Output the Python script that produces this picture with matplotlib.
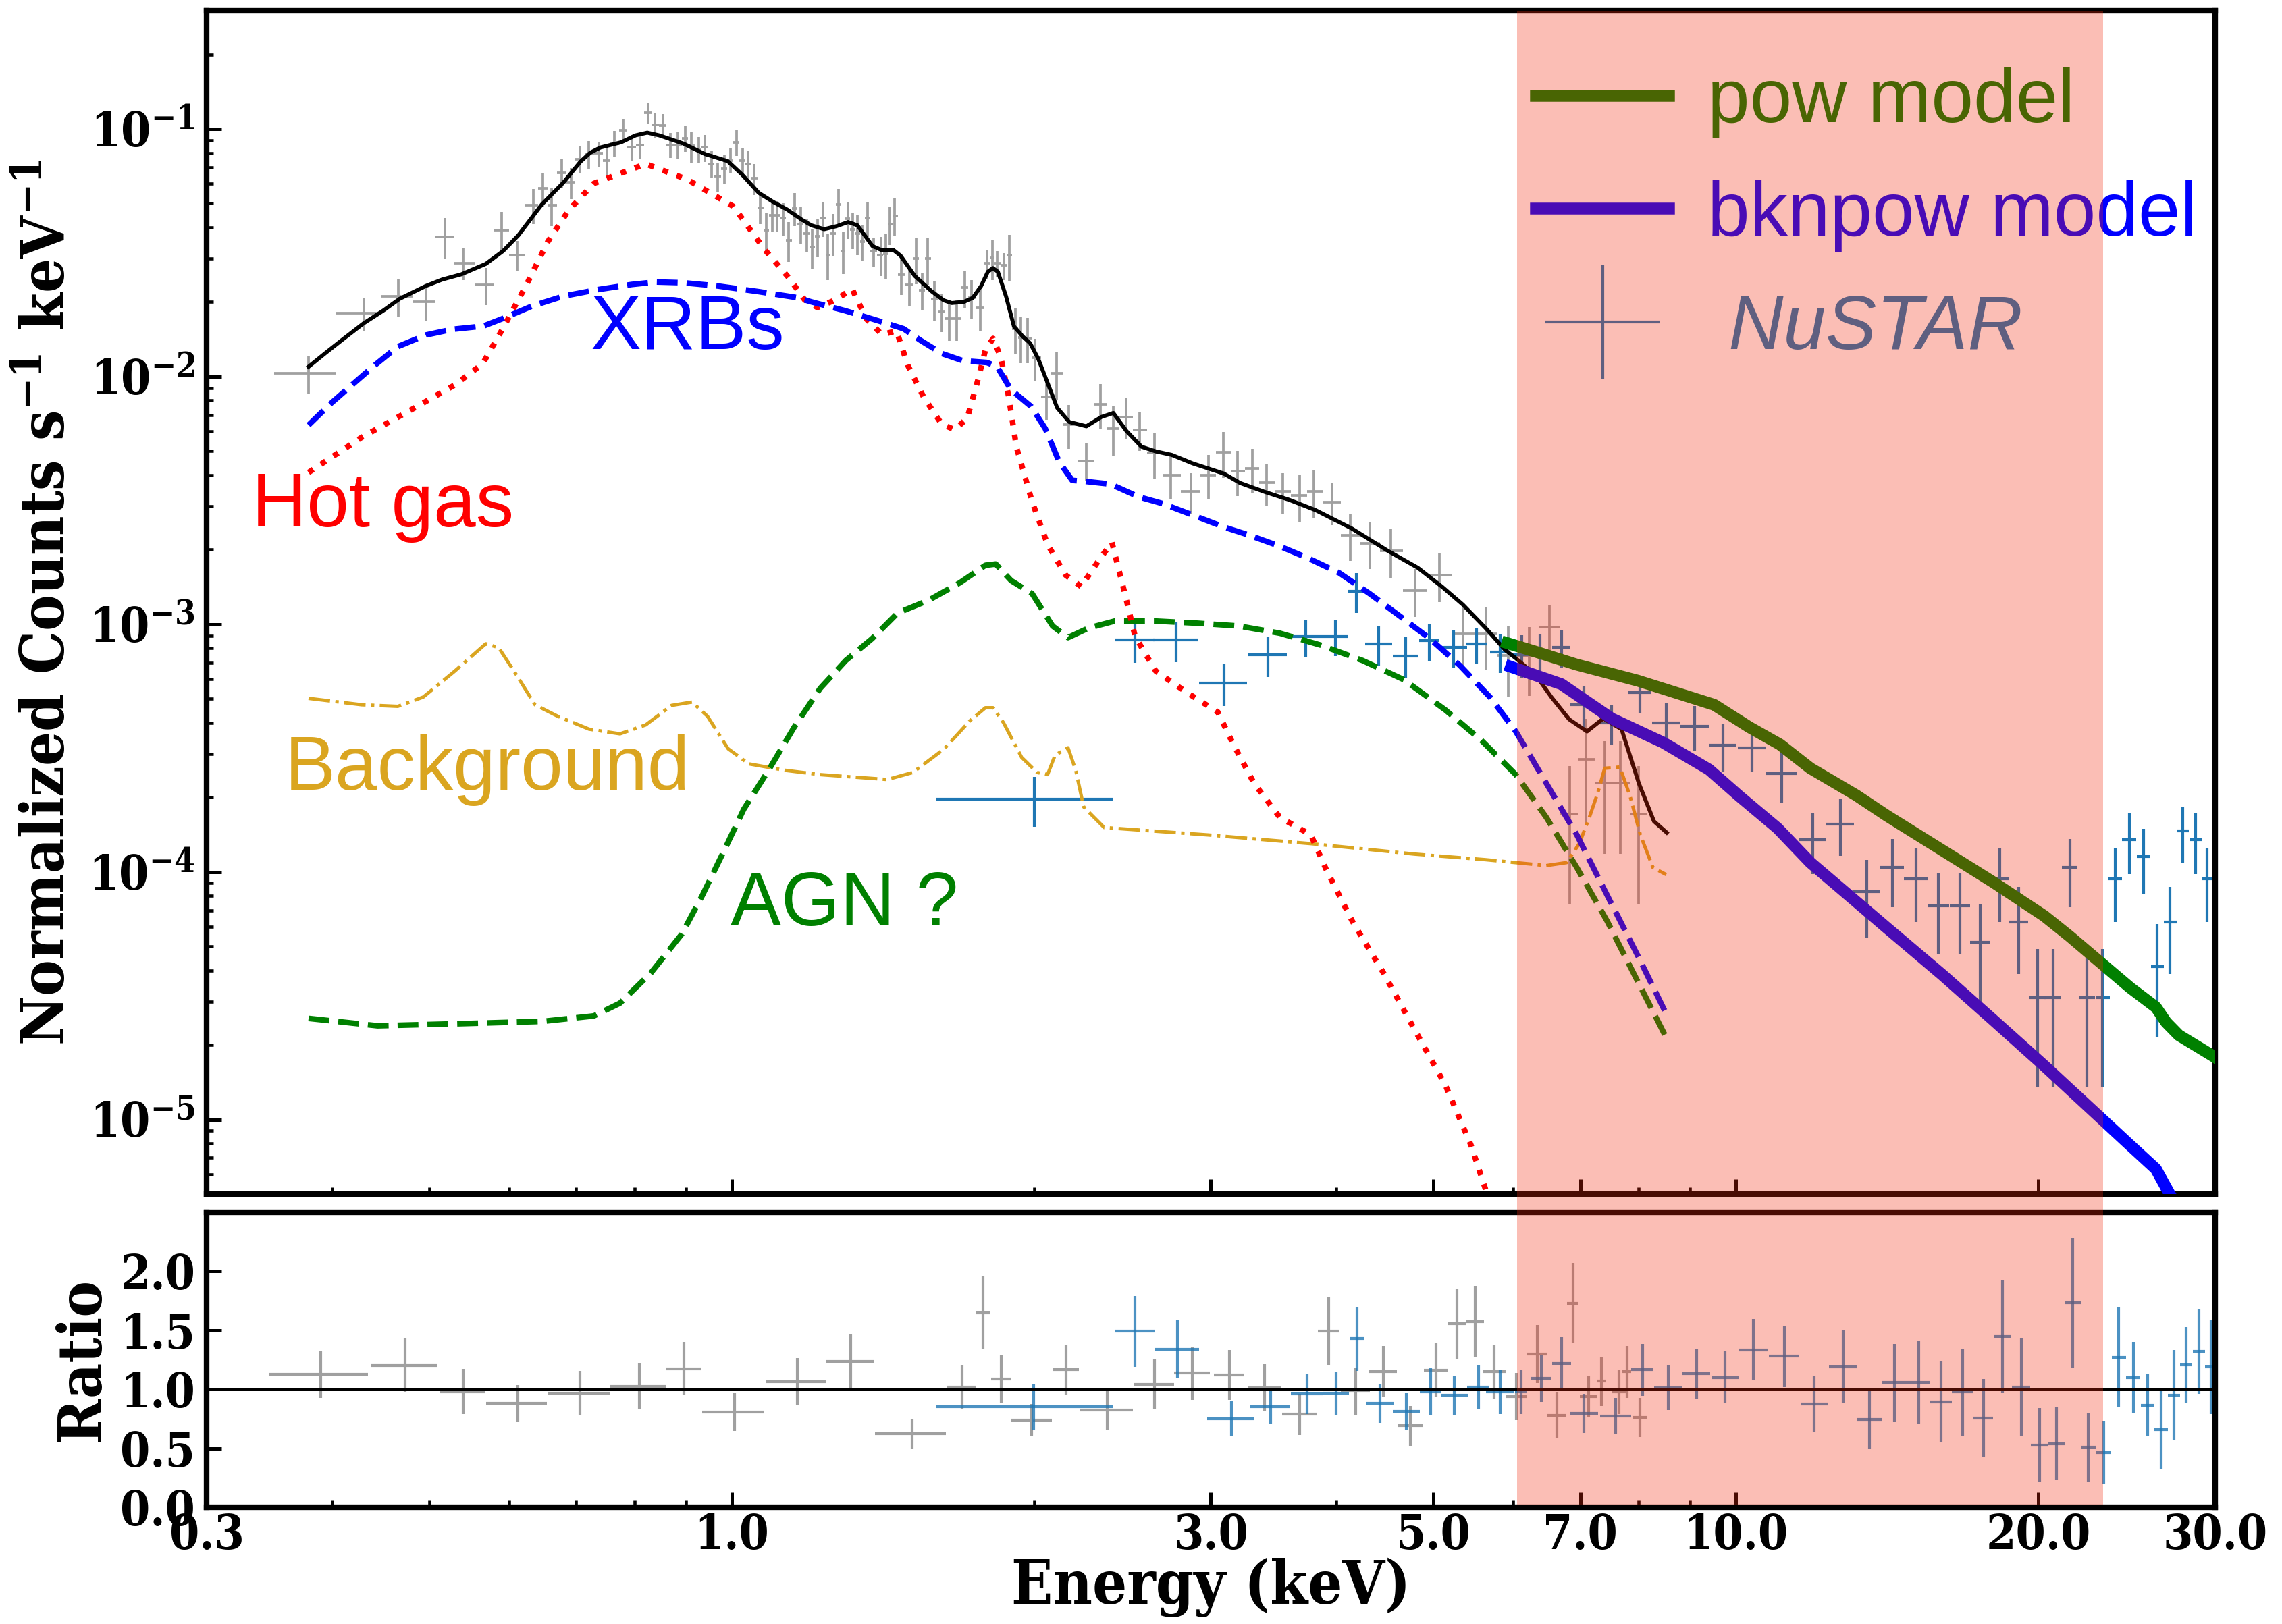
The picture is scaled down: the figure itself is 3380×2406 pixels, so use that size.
import numpy as np
import matplotlib
matplotlib.use("Agg")
import matplotlib.pyplot as plt
from matplotlib.patches import Rectangle
from matplotlib.legend_handler import HandlerErrorbar
from matplotlib.container import ErrorbarContainer
from matplotlib.ticker import FixedLocator, FixedFormatter, NullFormatter

plt.rcParams.update({
    "font.family": "serif",
    "font.serif": ["DejaVu Serif"],
    "font.weight": "bold",
    "font.stretch": "condensed",
    "axes.labelweight": "bold",
    "mathtext.fontset": "dejavuserif",
    "mathtext.default": "bf",
    "axes.linewidth": 2.0,
})

# ---------------- Chandra spectrum (counts s^-1 keV^-1) ----------------
chandra_E = [0.379, 0.430, 0.466, 0.496, 0.518, 0.540, 0.569, 0.590, 0.611, 0.635,
             0.649, 0.662, 0.677, 0.692, 0.706, 0.721, 0.737, 0.751, 0.764, 0.780,
             0.795, 0.810, 0.825, 0.838, 0.854, 0.869, 0.884, 0.899, 0.911, 0.927,
             0.940, 0.955, 0.968, 0.983, 0.997, 1.011, 1.025, 1.039, 1.053, 1.068,
             1.083, 1.097, 1.110, 1.125, 1.140, 1.155, 1.171, 1.188, 1.203, 1.218,
             1.233, 1.247, 1.262, 1.277, 1.291, 1.305, 1.320, 1.335, 1.349, 1.365,
             1.384, 1.408, 1.423, 1.438, 1.453, 1.475, 1.504, 1.526, 1.548, 1.568,
             1.592, 1.618, 1.646, 1.675, 1.706, 1.733, 1.767, 1.795, 1.817, 1.838,
             1.868, 1.889, 1.916, 1.939, 1.970, 2.006, 2.057, 2.106, 2.165, 2.253,
             2.331, 2.398, 2.471, 2.549, 2.636, 2.738, 2.864, 2.986, 3.087, 3.191,
             3.298, 3.407, 3.536, 3.678, 3.80, 3.96, 4.13, 4.32, 4.53, 4.79,
             5.07, 5.35, 5.64, 5.93, 6.22, 6.52, 6.83, 7.09, 7.40, 7.67, 8.00]
chandra_y = [0.0103, 0.0180, 0.0211, 0.0201, 0.0367, 0.0287, 0.0235, 0.0390, 0.0310, 0.0492,
             0.0576, 0.0493, 0.0667, 0.0609, 0.0755, 0.0792, 0.0796, 0.0747, 0.0873, 0.0985,
             0.0842, 0.0863, 0.116, 0.104, 0.103, 0.0863, 0.0863, 0.0917, 0.0853, 0.0828,
             0.0842, 0.0724, 0.0646, 0.0690, 0.0747, 0.0883, 0.0747, 0.0724, 0.0631, 0.0481,
             0.0390, 0.0448, 0.0448, 0.0437, 0.0356, 0.0478, 0.0414, 0.0377, 0.0333, 0.0368,
             0.0436, 0.0310, 0.0379, 0.0494, 0.0321, 0.0433, 0.0392, 0.0379, 0.0351, 0.0436,
             0.0321, 0.0310, 0.0313, 0.0413, 0.0446, 0.0258, 0.0235, 0.0299, 0.0223, 0.0299,
             0.0206, 0.0183, 0.0172, 0.0172, 0.0229, 0.0208, 0.0189, 0.0286, 0.0301, 0.0286,
             0.0281, 0.0309, 0.0156, 0.0144, 0.0143, 0.0119, 0.00828, 0.0103, 0.00640, 0.00457,
             0.00771, 0.00617, 0.00687, 0.00610, 0.00491, 0.00400, 0.00343, 0.00400, 0.00494, 0.00415,
             0.00425, 0.00372, 0.00343, 0.00331, 0.00344, 0.00312, 0.00229, 0.00212, 0.00198, 0.00137,
             0.00158, 0.000912, 0.000912, 0.000748, 0.000745, 0.000973, 0.000171, 0.000284, 0.000228,
             0.000228, 0.000171]
chandra_yerr = [0.0018, 0.0028, 0.0037, 0.0034, 0.0070, 0.0042, 0.0040, 0.0071, 0.0044, 0.0080,
                0.0089, 0.0087, 0.0090, 0.0087, 0.0094, 0.0101, 0.0091, 0.0101, 0.0106, 0.0106,
                0.0102, 0.0104, 0.0117, 0.0119, 0.0115, 0.0098, 0.0104, 0.0107, 0.0121, 0.0100,
                0.0105, 0.0093, 0.0087, 0.0093, 0.0085, 0.0107, 0.0085, 0.0093, 0.0090, 0.0068,
                0.0069, 0.0066, 0.0064, 0.0065, 0.0065, 0.0074, 0.0070, 0.0058, 0.0061, 0.0065,
                0.0069, 0.0065, 0.0074, 0.0078, 0.0061, 0.0074, 0.0064, 0.0069, 0.0057, 0.0069,
                0.0043, 0.0056, 0.0064, 0.0073, 0.0077, 0.0044, 0.0043, 0.0063, 0.0038, 0.0065,
                0.0038, 0.0032, 0.0033, 0.0033, 0.0039, 0.0038, 0.0036, 0.0039, 0.0055, 0.0035,
                0.0035, 0.0065, 0.0032, 0.0031, 0.0030, 0.0023, 0.0016, 0.0022, 0.0013, 0.0008,
                0.0016, 0.0014, 0.0013, 0.0011, 0.00104, 0.00082, 0.00065, 0.00082, 0.00104, 0.00085,
                0.00087, 0.00071, 0.00065, 0.00071, 0.00074, 0.00061, 0.00049, 0.00045, 0.00044, 0.00030,
                0.00035, 0.00026, 0.00026, 0.00024, 0.00023, 0.00022, 0.000097, 0.00013, 0.00011,
                0.00011, 0.000097]
chandra_lo_edge = 0.350
chandra_hi_edge = 8.16

# ---------------- NuSTAR spectrum ----------------
nustar_E = [2.00, 2.52, 2.77, 3.09, 3.42, 3.73, 3.99, 4.19, 4.41, 4.69,
            4.95, 5.23, 5.52, 5.82, 6.12, 6.38, 6.70, 7.06, 7.52, 8.02,
            8.52, 9.10, 9.71, 10.38, 11.11, 11.92, 12.70, 13.49, 14.31, 15.10,
            15.91, 16.71, 17.50, 18.30, 19.12, 19.96, 20.69, 21.50, 22.35, 23.18,
            23.84, 24.64, 25.46, 26.28, 27.06, 27.86, 28.69, 29.47]
nustar_Eerr = [0.40, 0.115, 0.14, 0.17, 0.15, 0.15, 0.115, 0.085, 0.135, 0.135,
               0.115, 0.165, 0.135, 0.13, 0.135, 0.165, 0.14, 0.22, 0.255, 0.215,
               0.275, 0.29, 0.305, 0.335, 0.395, 0.375, 0.415, 0.40, 0.39, 0.415,
               0.40, 0.39, 0.405, 0.37, 0.425, 0.385, 0.40, 0.375, 0.415, 0.375,
               0.375, 0.40, 0.40, 0.40, 0.40, 0.40, 0.40, 0.40]
nustar_y = [1.97e-4, 8.63e-4, 8.63e-4, 5.78e-4, 7.54e-4, 8.91e-4, 8.94e-4, 1.36e-3, 8.30e-4, 7.45e-4,
            8.57e-4, 8.07e-4, 8.30e-4, 7.74e-4, 7.54e-4, 7.74e-4, 8.07e-4, 4.73e-4, 3.99e-4, 5.30e-4,
            3.99e-4, 3.87e-4, 3.25e-4, 3.17e-4, 2.49e-4, 1.35e-4, 1.56e-4, 8.30e-5, 1.04e-4, 9.38e-5,
            7.28e-5, 7.28e-5, 5.18e-5, 9.38e-5, 6.27e-5, 3.11e-5, 3.11e-5, 1.04e-4, 3.11e-5, 3.11e-5,
            9.38e-5, 1.35e-4, 1.15e-4, 4.15e-5, 6.27e-5, 1.46e-4, 1.35e-4, 9.38e-5]
nustar_yerr = [4.5e-5, 1.63e-4, 1.6e-4, 1.1e-4, 1.4e-4, 1.5e-4, 1.5e-4, 2.5e-4, 1.5e-4, 1.4e-4,
               1.5e-4, 1.4e-4, 1.4e-4, 1.4e-4, 1.5e-4, 1.4e-4, 1.4e-4, 9e-5, 7.5e-5, 9e-5,
               8e-5, 8e-5, 7e-5, 6.5e-5, 6e-5, 3.7e-5, 4e-5, 2.9e-5, 3.2e-5, 3.1e-5,
               2.6e-5, 2.6e-5, 2.2e-5, 3.1e-5, 2.4e-5, 1.76e-5, 1.76e-5, 3.2e-5, 1.76e-5, 1.76e-5,
               3.1e-5, 3.7e-5, 3.4e-5, 2.0e-5, 2.4e-5, 3.8e-5, 3.7e-5, 3.1e-5]

# ---------------- Model components ----------------
total_E = [0.379, 0.394, 0.409, 0.430, 0.450, 0.467, 0.496, 0.515, 0.538, 0.569,
           0.592, 0.613, 0.647, 0.680, 0.707, 0.723, 0.740, 0.776, 0.802, 0.824,
           0.847, 0.895, 0.940, 0.991, 1.024, 1.064, 1.099, 1.135, 1.175, 1.200,
           1.236, 1.271, 1.306, 1.334, 1.381, 1.410, 1.449, 1.473, 1.521, 1.582,
           1.626, 1.656, 1.703, 1.738, 1.771, 1.799, 1.820, 1.841, 1.876, 1.910,
           1.950, 1.982, 2.019, 2.066, 2.109, 2.168, 2.255, 2.334, 2.399, 2.472,
           2.559, 2.643, 2.742, 2.878, 3.090, 3.207, 3.396, 3.590, 3.813, 4.141,
           4.500, 4.822, 5.094, 5.346, 5.652, 5.890, 6.036, 6.322, 6.549, 6.822,
           7.106, 7.375, 7.692, 8.003, 8.286, 8.532]
total_y = [0.01096, 0.01245, 0.01403, 0.01641, 0.01849, 0.02061, 0.02323, 0.02466, 0.02588, 0.02851,
           0.03214, 0.03715, 0.04955, 0.06081, 0.07379, 0.08017, 0.08414, 0.08831, 0.09419, 0.09661,
           0.09419, 0.08730, 0.07925, 0.07413, 0.06546, 0.05521, 0.05082, 0.04732, 0.04295, 0.04083,
           0.03936, 0.04046, 0.04207, 0.04083, 0.03365, 0.03243, 0.03243, 0.03076, 0.02553, 0.02208,
           0.02032, 0.01982, 0.02004, 0.02080, 0.02317, 0.02649, 0.02742, 0.02649, 0.02104, 0.01596,
           0.01449, 0.01365, 0.01183, 0.00929, 0.00748, 0.00656, 0.00630, 0.00687, 0.00713, 0.00603,
           0.00521, 0.00499, 0.00483, 0.00446, 0.00406, 0.00372, 0.00342, 0.00318, 0.00289, 0.00244,
           0.00198, 0.00169, 0.00142, 0.00120, 0.000951, 0.000787, 0.000729, 0.000621, 0.000508, 0.000413,
           0.000369, 0.000416, 0.000377, 0.000228, 0.000160, 0.000144]

xrb_E = [0.379, 0.398, 0.418, 0.440, 0.465, 0.496, 0.527, 0.566, 0.593, 0.633,
         0.680, 0.735, 0.795, 0.840, 0.895, 0.968, 1.064, 1.162, 1.200, 1.297,
         1.403, 1.483, 1.542, 1.619, 1.699, 1.795, 1.837, 1.897, 1.987, 2.052,
         2.119, 2.183, 2.255, 2.383, 2.542, 2.686, 2.858, 3.090, 3.274, 3.508,
         3.759, 4.028, 4.316, 4.625, 4.956, 5.311, 5.691, 6.036, 6.473, 6.943,
         7.443, 7.983, 8.522]
xrb_y = [0.00637, 0.00773, 0.00920, 0.01102, 0.01321, 0.01472, 0.01552, 0.01600, 0.01722, 0.01928,
         0.02113, 0.02244, 0.02355, 0.02410, 0.02393, 0.02323, 0.02203, 0.02084, 0.02004, 0.01845,
         0.01675, 0.01560, 0.01400, 0.01239, 0.01159, 0.01140, 0.01099, 0.00885, 0.00757, 0.00617,
         0.00452, 0.00381, 0.00377, 0.00368, 0.00327, 0.00307, 0.00279, 0.00247, 0.00229, 0.00207,
         0.00184, 0.00161, 0.00133, 0.00108, 0.000875, 0.000681, 0.000507, 0.000369, 0.000228, 0.000141,
         0.0000804, 0.0000459, 0.0000267]

gas_E = [0.379, 0.428, 0.482, 0.530, 0.565, 0.593, 0.625, 0.656, 0.688, 0.729,
         0.821, 0.903, 1.004, 1.078, 1.141, 1.182, 1.217, 1.269, 1.318, 1.362,
         1.412, 1.459, 1.498, 1.552, 1.618, 1.667, 1.716, 1.757, 1.789, 1.821,
         1.854, 1.887, 1.921, 1.991, 2.063, 2.150, 2.228, 2.322, 2.391, 2.463,
         2.522, 2.644, 2.839, 3.048, 3.159, 3.312, 3.514, 3.773, 3.909, 4.149,
         4.456, 4.782, 5.135, 5.447, 5.646, 5.80]
gas_y = [0.00410, 0.00568, 0.00743, 0.00925, 0.01127, 0.01589, 0.02360, 0.03508, 0.04688, 0.06026,
         0.07228, 0.06252, 0.04864, 0.03266, 0.02495, 0.02042, 0.01901, 0.02042, 0.02259, 0.01706,
         0.01476, 0.01531, 0.01107, 0.00830, 0.00644, 0.00610, 0.00679, 0.00957, 0.01279, 0.01426,
         0.01189, 0.00830, 0.00519, 0.00313, 0.00210, 0.00158, 0.00142, 0.00182, 0.00214, 0.00133,
         0.000891, 0.000647, 0.000530, 0.000442, 0.000327, 0.000228, 0.000166, 0.000141, 0.000102, 0.0000632,
         0.0000391, 0.0000232, 0.0000138, 0.00000787, 0.00000506, 0.0000040]

agn_E = [0.379, 0.444, 0.542, 0.648, 0.729, 0.774, 0.831, 0.892, 0.935, 0.981,
         1.028, 1.088, 1.154, 1.225, 1.299, 1.379, 1.463, 1.571, 1.687, 1.789,
         1.832, 1.898, 1.991, 2.087, 2.162, 2.267, 2.406, 2.644, 2.908, 3.198,
         3.514, 3.864, 4.247, 4.670, 5.135, 5.577, 6.036, 6.473, 6.943, 7.443,
         7.983, 8.522]
agn_y = [2.56e-5, 2.39e-5, 2.44e-5, 2.49e-5, 2.62e-5, 2.95e-5, 3.91e-5, 5.61e-5, 8.04e-5, 1.20e-4,
         1.79e-4, 2.57e-4, 3.84e-4, 5.51e-4, 7.14e-4, 8.73e-4, 1.11e-3, 1.25e-3, 1.47e-3, 1.73e-3,
         1.75e-3, 1.50e-3, 1.33e-3, 9.84e-4, 8.83e-4, 9.66e-4, 1.03e-3, 1.03e-3, 1.01e-3, 9.84e-4,
         9.20e-4, 8.22e-4, 7.14e-4, 5.97e-4, 4.51e-4, 3.40e-4, 2.47e-4, 1.66e-4, 1.04e-4, 6.32e-5,
         3.61e-5, 2.14e-5]

bkg_E = [0.379, 0.428, 0.465, 0.493, 0.530, 0.569, 0.586, 0.611, 0.637, 0.671,
         0.721, 0.774, 0.821, 0.871, 0.913, 0.946, 0.992, 1.040, 1.131, 1.225,
         1.429, 1.515, 1.628, 1.726, 1.789, 1.821, 1.865, 1.944, 2.014, 2.063,
         2.099, 2.162, 2.201, 2.241, 2.349, 2.977, 3.773, 4.782, 5.626, 6.473,
         6.782, 6.981, 7.145, 7.288, 7.400, 7.662, 7.845, 8.031, 8.267, 8.522]
bkg_y = [5.02e-4, 4.73e-4, 4.66e-4, 5.08e-4, 6.47e-4, 8.34e-4, 8.05e-4, 6.21e-4, 4.73e-4, 4.25e-4,
         3.77e-4, 3.61e-4, 3.92e-4, 4.70e-4, 4.85e-4, 4.25e-4, 3.14e-4, 2.73e-4, 2.57e-4, 2.47e-4,
         2.36e-4, 2.52e-4, 3.14e-4, 4.07e-4, 4.60e-4, 4.60e-4, 4.00e-4, 2.90e-4, 2.52e-4, 2.47e-4,
         2.96e-4, 3.17e-4, 2.57e-4, 1.83e-4, 1.51e-4, 1.41e-4, 1.30e-4, 1.18e-4, 1.12e-4, 1.06e-4,
         1.09e-4, 1.30e-4, 1.66e-4, 2.10e-4, 2.62e-4, 2.65e-4, 2.02e-4, 1.41e-4, 1.04e-4, 9.75e-5]

pow_E = [5.92, 6.32, 6.94, 7.98, 9.51, 10.31, 11.06, 11.86, 13.17, 14.12,
         16.06, 18.04, 20.27, 21.48, 23.04, 24.70, 26.19, 26.81, 27.60, 29.95]
pow_y = [8.39e-4, 7.74e-4, 6.87e-4, 5.92e-4, 4.73e-4, 3.84e-4, 3.27e-4, 2.62e-4, 2.04e-4, 1.69e-4,
         1.22e-4, 9.08e-5, 6.64e-5, 5.50e-5, 4.32e-5, 3.40e-5, 2.84e-5, 2.47e-5, 2.19e-5, 1.79e-5]

bknpow_E = [5.97, 6.70, 7.52, 8.46, 9.40, 10.08, 11.00, 11.86, 14.12, 16.06,
            18.04, 20.27, 23.04, 24.56, 26.19, 27.06]
bknpow_y = [6.73e-4, 5.73e-4, 4.16e-4, 3.33e-4, 2.59e-4, 2.02e-4, 1.50e-4, 1.09e-4, 5.96e-5, 3.83e-5,
            2.52e-5, 1.65e-5, 1.02e-5, 8.02e-6, 6.31e-6, 4.96e-6]

# ---------------- Data / model ratios ----------------
chandra_ratio_E = [0.390, 0.473, 0.540, 0.612, 0.706, 0.809, 0.896, 1.006, 1.162, 1.313,
                   1.512, 1.695, 1.780, 1.855, 1.990, 2.152, 2.365, 2.635, 2.875, 3.129,
                   3.393, 3.675, 3.928, 4.179, 4.455, 4.740, 5.030, 5.274, 5.497, 5.747,
                   6.043, 6.340, 6.628, 6.878, 7.128, 7.351, 7.650, 7.787, 8.022]
chandra_ratio_Eerr = [0.044, 0.036, 0.028, 0.043, 0.050, 0.052, 0.037, 0.071, 0.081, 0.073,
                      0.123, 0.056, 0.029, 0.042, 0.095, 0.065, 0.143, 0.123, 0.119, 0.11,
                      0.13, 0.145, 0.095, 0.14, 0.14, 0.14, 0.14, 0.11, 0.11, 0.15,
                      0.145, 0.14, 0.145, 0.085, 0.14, 0.08, 0.12, 0.075, 0.135]
chandra_ratio = [1.127, 1.202, 0.981, 0.880, 0.966, 1.025, 1.175, 0.806, 1.063, 1.238,
                 0.625, 1.019, 1.650, 1.089, 0.738, 1.165, 0.821, 1.044, 1.137, 1.122,
                 1.015, 0.789, 1.492, 0.983, 1.150, 0.690, 1.162, 1.555, 1.574, 1.150,
                 0.937, 1.297, 0.778, 1.730, 0.939, 1.068, 0.977, 1.148, 0.762]
chandra_ratio_err = [0.20, 0.23, 0.19, 0.157, 0.19, 0.196, 0.226, 0.16, 0.20, 0.23,
                     0.125, 0.19, 0.31, 0.20, 0.14, 0.21, 0.165, 0.21, 0.225, 0.21,
                     0.20, 0.175, 0.29, 0.20, 0.22, 0.17, 0.23, 0.30, 0.30, 0.23,
                     0.20, 0.245, 0.195, 0.34, 0.175, 0.21, 0.19, 0.22, 0.165]

nustar_ratio_E = [1.999, 2.521, 2.779, 3.145, 3.439, 3.739, 3.997, 4.196, 4.422, 4.699,
                  4.965, 5.244, 5.538, 5.825, 6.109, 6.405, 6.706, 7.061, 7.593, 8.070,
                  8.563, 9.132, 9.758, 10.41, 11.17, 11.97, 12.78, 13.58, 14.39, 15.20,
                  16.00, 16.81, 17.63, 18.43, 19.24, 20.05, 20.84, 21.65, 22.44, 23.25,
                  24.06, 24.87, 25.69, 26.50, 27.30, 28.08, 28.92, 29.70]
nustar_ratio_Eerr = [0.40, 0.115, 0.14, 0.17, 0.16, 0.135, 0.12, 0.07, 0.135, 0.145,
                     0.12, 0.16, 0.14, 0.185, 0.085, 0.15, 0.15, 0.225, 0.27, 0.21,
                     0.275, 0.29, 0.31, 0.34, 0.39, 0.38, 0.41, 0.40, 0.40, 0.41,
                     0.40, 0.40, 0.40, 0.38, 0.40, 0.38, 0.40, 0.38, 0.40, 0.40,
                     0.40, 0.40, 0.40, 0.40, 0.40, 0.40, 0.40, 0.40]
nustar_ratio = [0.850, 1.492, 1.340, 0.749, 0.852, 0.960, 0.966, 1.428, 0.880, 0.810,
                0.981, 0.947, 1.019, 0.977, 0.977, 1.091, 1.221, 0.797, 0.774, 1.165,
                1.015, 1.131, 1.099, 1.335, 1.281, 0.876, 1.190, 0.743, 1.057, 1.057,
                0.895, 0.977, 0.755, 1.445, 1.019, 0.529, 0.540, 1.734, 0.508, 0.464,
                1.272, 1.099, 0.865, 0.658, 0.949, 1.205, 1.319, 1.192]
nustar_ratio_err = [0.19, 0.30, 0.25, 0.15, 0.15, 0.17, 0.185, 0.27, 0.165, 0.157,
                    0.195, 0.17, 0.19, 0.19, 0.19, 0.20, 0.22, 0.165, 0.15, 0.22,
                    0.19, 0.21, 0.22, 0.26, 0.26, 0.24, 0.31, 0.25, 0.33, 0.35,
                    0.34, 0.37, 0.33, 0.48, 0.41, 0.31, 0.31, 0.55, 0.29, 0.27,
                    0.42, 0.30, 0.26, 0.33, 0.385, 0.32, 0.36, 0.40]

# Energy band excluded from the fit (keV)
span_lo, span_hi = 6.05, 23.2

major_ticks = [0.3, 1.0, 3.0, 5.0, 7.0, 10.0, 20.0, 30.0]
major_labels = ["0.3", "1.0", "3.0", "5.0", "7.0", "10.0", "20.0", "30.0"]
minor_ticks = [0.4, 0.5, 0.6, 0.7, 0.8, 0.9, 2.0, 4.0, 6.0, 8.0, 9.0]
ratio_ticks = [0.0, 0.5, 1.0, 1.5, 2.0]
ratio_labels = ["0.0", "0.5", "1.0", "1.5", "2.0"]

SANS = "Liberation Sans"
GREY = "#a0a0a0"
NUBLUE = "#1f77b4"

# ---------------- Figure ----------------
W, H, DPI = 3380, 2406, 300
fig = plt.figure(figsize=(W / DPI, H / DPI), dpi=DPI)
ax = fig.add_axes([0.09053, 0.26475, 0.88018, 0.72860])
axr = fig.add_axes([0.09053, 0.07190, 0.88018, 0.18163], sharex=ax)

ax.set_xscale("log")
ax.set_yscale("log")
ax.set_xlim(0.3, 30.0)
ax.set_ylim(5e-6, 0.3)
axr.set_ylim(0.0, 2.5)

# Chandra points: contiguous bins around each channel centre
cE = np.asarray(chandra_E)
edges = np.concatenate([[chandra_lo_edge], np.sqrt(cE[:-1] * cE[1:]), [chandra_hi_edge]])
c_xerr = np.vstack([cE - edges[:-1], edges[1:] - cE])
ax.errorbar(chandra_E, chandra_y, xerr=c_xerr, yerr=chandra_yerr, fmt="none",
            ecolor=GREY, elinewidth=0.9, capsize=0, zorder=2)

nus = ax.errorbar(nustar_E, nustar_y, xerr=nustar_Eerr, yerr=nustar_yerr, fmt="none",
                  ecolor=NUBLUE, elinewidth=1.0, capsize=0, zorder=2, label="NuSTAR")

ax.plot(bkg_E, bkg_y, color="goldenrod", lw=1.2, ls="-.", zorder=3)
ax.plot(agn_E, agn_y, color="green", lw=2.0, ls="--", zorder=3)
ax.plot(gas_E, gas_y, color="red", lw=2.0, ls=":", zorder=3)
ax.plot(xrb_E, xrb_y, color="blue", lw=2.0, ls="--", zorder=3)
ax.plot(total_E, total_y, color="black", lw=1.4, zorder=4)
pow_line, = ax.plot(pow_E, pow_y, color="green", lw=4.2, zorder=4, label="pow model")
bkn_line, = ax.plot(bknpow_E, bknpow_y, color="blue", lw=4.2, zorder=4, label="bknpow model")

# component labels
txt_kw = dict(fontsize=27, family=SANS, fontweight="normal", fontstretch="normal",
              ha="left", va="baseline")
ax.text(0.333, 2.48e-3, "Hot gas", color="red", **txt_kw)
ax.text(0.723, 1.291e-2, "XRBs", color="blue", **txt_kw)
ax.text(0.359, 2.15e-4, "Background", color="goldenrod", **txt_kw)
ax.text(0.997, 6.07e-5, "AGN ?", color="green", **txt_kw)

leg = ax.legend(handles=[pow_line, bkn_line, nus],
                labels=["pow model", "bknpow model", " NuSTAR"],
                loc="upper right", bbox_to_anchor=(0.9985, 0.9655), frameon=False,
                prop={"family": SANS, "size": 27, "weight": "normal", "stretch": "normal"},
                handlelength=1.75, handletextpad=0.5, labelspacing=0.55,
                borderaxespad=0.0, borderpad=0.2,
                handler_map={ErrorbarContainer: HandlerErrorbar(xerr_size=0.75, yerr_size=0.75)})
for t, c in zip(leg.get_texts(), ["green", "blue", NUBLUE]):
    t.set_color(c)
leg.get_texts()[2].set_fontstyle("italic")

# ratio panel
axr.errorbar(chandra_ratio_E, chandra_ratio, xerr=chandra_ratio_Eerr, yerr=chandra_ratio_err,
             fmt="none", ecolor=GREY, elinewidth=1.0, capsize=0, zorder=2)
axr.errorbar(nustar_ratio_E, nustar_ratio, xerr=nustar_ratio_Eerr, yerr=nustar_ratio_err,
             fmt="none", ecolor=NUBLUE, elinewidth=1.0, capsize=0, alpha=0.8, zorder=2)
axr.axhline(1.0, color="black", lw=1.2, zorder=3)

# ticks
ax.xaxis.set_major_locator(FixedLocator(major_ticks))
ax.xaxis.set_minor_locator(FixedLocator(minor_ticks))
axr.xaxis.set_major_formatter(FixedFormatter(major_labels))
axr.xaxis.set_minor_formatter(NullFormatter())
ax.tick_params(labelbottom=False)
axr.yaxis.set_major_locator(FixedLocator(ratio_ticks))
axr.yaxis.set_major_formatter(FixedFormatter(ratio_labels))
for a in (ax, axr):
    a.tick_params(which="major", direction="in", length=5.3, width=1.2, labelsize=17)
    a.tick_params(which="minor", direction="in", length=2.4, width=1.1)
    a.tick_params(axis="y", which="both", left=True, right=False, pad=4)
    a.tick_params(axis="x", which="both", bottom=True, top=False, pad=2)
    for s in a.spines.values():
        s.set_linewidth(2.0)

ax.set_ylabel("Normalized Counts s$^{-1}$ keV$^{-1}$", fontsize=21.5, fontweight="bold")
ax.yaxis.set_label_coords(-0.0639, 0.5)
axr.set_ylabel("Ratio", fontsize=21.5, fontweight="bold")
axr.yaxis.set_label_coords(-0.0471, 0.5)
axr.set_xlabel("Energy (keV)", fontsize=21.5, fontweight="bold")
axr.xaxis.set_label_coords(0.5, -0.17)

# shaded band spanning both panels
to_fig = fig.transFigure.inverted()
x0 = to_fig.transform(ax.transData.transform((span_lo, 1e-3)))[0]
x1 = to_fig.transform(ax.transData.transform((span_hi, 1e-3)))[0]
y0 = axr.get_position().y0 + 4.0 / H
y1 = ax.get_position().y1
band = Rectangle((x0, y0), x1 - x0, y1 - y0, transform=fig.transFigure,
                 facecolor=(245 / 255, 40 / 255, 10 / 255), alpha=0.3,
                 edgecolor="none", zorder=5)
fig.add_artist(band)

fig.savefig("out.png", dpi=DPI)
